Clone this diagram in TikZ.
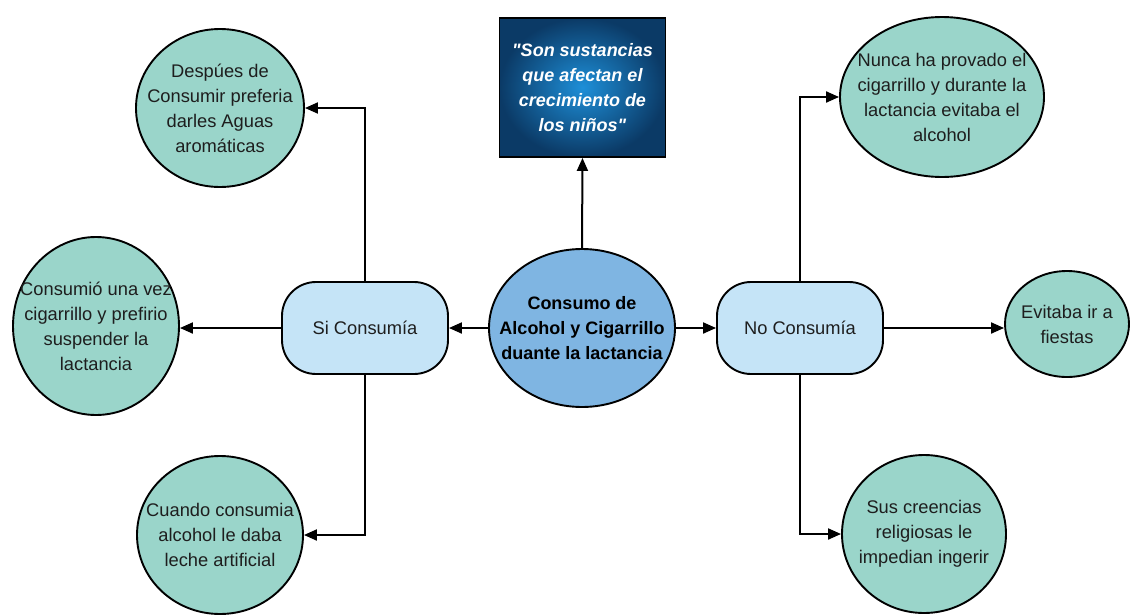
\documentclass[tikz,border=0pt]{standalone}
\usepackage{fontspec}
\setmainfont{Liberation Sans}
\newfontfamily\straightsans[Ligatures=TeXOff]{Liberation Sans}
\usetikzlibrary{shapes.geometric,arrows.meta}

\definecolor{leaf}{HTML}{9AD5CA}
\definecolor{hub}{HTML}{7FB5E2}
\definecolor{branch}{HTML}{C5E4F7}
\definecolor{quoteedge}{HTML}{0B3A66}
\definecolor{quotemid}{HTML}{1E8FD8}
\definecolor{ink}{HTML}{1E1E1E}

\tikzset{
  outline/.style={draw=black, line width=1.9pt},
  leafnode/.style={outline, ellipse, fill=leaf, inner sep=0pt},
  branchnode/.style={outline, rectangle, rounded corners=34pt, fill=branch,
    minimum width=166pt, minimum height=92pt, inner sep=0pt},
  label/.style={align=center, text=ink, inner sep=0pt,
    font=\fontsize{18.3pt}{25pt}\selectfont},
  arr/.style={line width=2pt, draw=black,
    -{Triangle[length=13pt,width=11pt]}},
}

\begin{document}
\begin{tikzpicture}[x=1pt,y=-1pt]
\useasboundingbox (0,0) rectangle (1133,616);

% central topic
\node[outline, ellipse, fill=hub, minimum width=186pt, minimum height=158pt,
      inner sep=0pt] (hub) at (582,328) {};
\node[label, text=black, font=\bfseries\fontsize{18pt}{25pt}\selectfont]
      (hubtext) at (hub) {Consumo de\\Alcohol y Cigarrillo\\duante la lactancia};

% quoted definition
\node[outline, rectangle, minimum width=166pt, minimum height=139pt,
      inner sep=0pt, inner color=quotemid, outer color=quoteedge]
      (quote) at (582.5,87.5) {};
\node[label, text=white,
      font=\straightsans\bfseries\itshape\fontsize{18pt}{25pt}\selectfont]
      (quotetext) at (quote) {"Son sustancias\\que afectan el\\crecimiento de\\los niños"};

% the two branches
\node[branchnode] (si) at (365,328) {};
\node[label] (sitext) at (si) {Si Consumía};
\node[branchnode] (no) at (800,328) {};
\node[label] (notext) at (no) {No Consumía};

% left leaves
\node[leafnode, minimum width=168pt, minimum height=158pt] (l1) at (220,108) {};
\node[label] (l1text) at (l1) {Despúes de\\Consumir preferia\\darles Aguas\\aromáticas};
\node[leafnode, minimum width=166pt, minimum height=178pt] (l2) at (96,326) {};
\node[label] (l2text) at (l2) {Consumió una vez\\cigarrillo y prefirio\\suspender la\\lactancia};
\node[leafnode, minimum width=166pt, minimum height=158pt] (l3) at (220,535) {};
\node[label] (l3text) at (l3) {Cuando consumia\\alcohol le daba\\leche artificial};

% right leaves
\node[leafnode, minimum width=204pt, minimum height=160pt] (r1) at (942,97) {};
\node[label] (r1text) at (r1) {Nunca ha provado el\\cigarrillo y durante la\\lactancia evitaba el\\alcohol};
\node[leafnode, minimum width=124pt, minimum height=106pt] (r2) at (1067,324) {};
\node[label] (r2text) at (r2) {Evitaba ir a\\fiestas};
\node[leafnode, minimum width=164pt, minimum height=158pt] (r3) at (924,534) {};
\node[label] (r3text) at (r3) {Sus creencias\\religiosas le\\impedian ingerir};

% connectors
\draw[arr] (hub.north) -- (quote.south);
\draw[arr] (hub.west) -- (si.east);
\draw[arr] (hub.east) -- (no.west);

\draw[arr] (si.north) |- (l1.east);
\draw[arr] (si.west) -- (l2.east |- si.west);
\draw[arr] (si.south) |- (l3.east);

\draw[arr] (no.north) |- (r1.west);
\draw[arr] (no.east) -- (r2.west |- no.east);
\draw[arr] (no.south) |- (r3.west);
\end{tikzpicture}
\end{document}
